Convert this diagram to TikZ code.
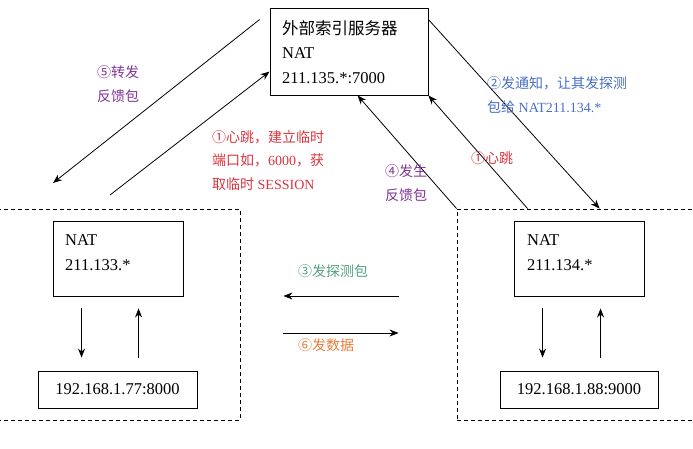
\documentclass[tikz,border=0pt]{standalone}
\usepackage{fontspec}
\setmainfont{Liberation Serif}
\newfontfamily\cjk{Noto Sans CJK SC}
\usepackage{tikz}
\usetikzlibrary{arrows.meta,positioning}
\usepackage{xcolor}
\definecolor{hbred}{RGB}{218,52,62}
\definecolor{ntblue}{RGB}{72,110,198}
\definecolor{fbpurple}{RGB}{128,52,148}
\definecolor{prgreen}{RGB}{82,160,128}
\definecolor{dtorange}{RGB}{234,124,58}
\tikzstyle{arrow} = [->,>={Stealth[length=9pt,width=7pt]},line width=0.8pt]
\tikzstyle{box} = [draw,line width=0.9pt,inner sep=0]
\tikzstyle{host} = [draw,dash pattern=on 4pt off 3pt,line width=0.8pt,inner sep=0]
\tikzstyle{txt} = [inner sep=0,align=left,anchor=base west,font=\fontsize{16.5}{24.5}\selectfont]
\tikzstyle{note} = [inner sep=0,align=left,anchor=base west,font=\fontsize{14}{23.5}\selectfont]

\begin{document}
\begin{tikzpicture}[x=1pt,y=-1pt]
\useasboundingbox (0,0) rectangle (693,448);
% Index server
\node[box,minimum width=158pt,minimum height=87pt] (server) at (349,51.5) {};
\node[txt] (servertext) at (282,83) {{\cjk 外部索引服务器}\\NAT\\211.135.*:7000};
% Left host
\node[host,minimum width=243pt,minimum height=211pt] (lhost) at (118.5,314.5) {};
\node[box,minimum width=130pt,minimum height=75pt] (lnat) at (118,258.5) {};
\node[txt] (lnattext) at (65,270) {NAT\\211.133.*};
\node[box,minimum width=159pt,minimum height=37pt,font=\fontsize{16.5}{24.5}\selectfont] (lip) at (117.5,389.5) {192.168.1.77:8000};
\draw[arrow] ([xshift=29pt,yshift=-12pt]lnat.south west) -- ([xshift=44pt,yshift=13pt]lip.north west);
\draw[arrow] ([xshift=101pt,yshift=13pt]lip.north west) -- ([xshift=86pt,yshift=-12pt]lnat.south west);
% Right host
\node[host,minimum width=243pt,minimum height=211pt] (rhost) at (578.5,314.5) {};
\node[box,minimum width=130pt,minimum height=75pt] (rnat) at (579,258.5) {};
\node[txt] (rnattext) at (527,270) {NAT\\211.134.*};
\node[box,minimum width=158pt,minimum height=37pt,font=\fontsize{16.5}{24.5}\selectfont] (rip) at (579,389.5) {192.168.1.88:9000};
\draw[arrow] ([xshift=29pt,yshift=-12pt]rnat.south west) -- ([xshift=43pt,yshift=13pt]rip.north west);
\draw[arrow] ([xshift=101pt,yshift=13pt]rip.north west) -- ([xshift=87pt,yshift=-12pt]rnat.south west);
% Server links
\coordinate (fwdstart) at ([xshift=-10pt,yshift=-12pt]server.north west);
\coordinate (fwdend) at (53,183);
\coordinate (hbleft) at (110,195);
\draw[arrow] (fwdstart) -- (fwdend);
\draw[arrow] (hbleft) -- ([yshift=-64pt]server.north west);
\draw[arrow] ([yshift=-12pt]server.north east) -- ([xshift=143pt]rhost.north west);
\draw[arrow] ([xshift=71pt]rhost.north west) -- (server.south east);
\draw[arrow] (rhost.north west) -- ([xshift=88pt]server.south west);
% Probe and data
\draw[arrow] ([xshift=-58pt,yshift=18.5pt]rhost.west) -- ([xshift=43pt,yshift=18.5pt]lhost.east);
\draw[arrow] ([xshift=43pt,yshift=-18.5pt]lhost.east) -- ([xshift=-58pt,yshift=-18.5pt]rhost.west);
% Labels
\node[note,text=fbpurple] (fwdlabel) at (97,101) {{\cjk ⑤转发}\\{\cjk 反馈包}};
\node[note,text=hbred] (hblabel) at (212,189) {{\cjk ①心跳，建立临时}\\{\cjk 端口如，}6000{\cjk ，获}\\{\cjk 取临时} SESSION};
\node[note,text=ntblue] (ntlabel) at (487,112) {{\cjk ②发通知，让其发探测}\\{\cjk 包给} NAT211.134.*};
\node[note,text=hbred] (hbrlabel) at (471,163) {{\cjk ①心跳}};
\node[note,text=fbpurple] (fblabel) at (385,200) {{\cjk ④发生}\\{\cjk 反馈包}};
\node[note,text=prgreen] (prlabel) at (298,276) {{\cjk ③发探测包}};
\node[note,text=dtorange] (dtlabel) at (298,350) {{\cjk ⑥发数据}};
\end{tikzpicture}
\end{document}
